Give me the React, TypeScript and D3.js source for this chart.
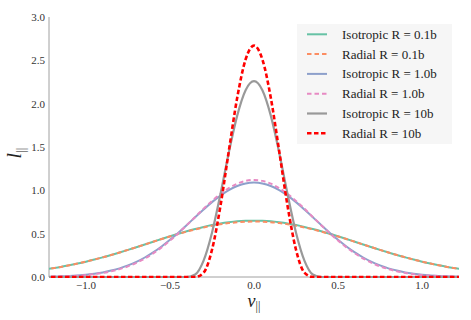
import React, { useEffect, useRef } from 'react';
import * as d3 from 'd3';

// line-of-sight velocity grid
const vGrid = [
  -1.25, -1.2, -1.15, -1.1, -1.05, -1.0, -0.95, -0.9, -0.85, -0.8, -0.75, -0.7, -0.65,
  -0.6, -0.55, -0.5, -0.45, -0.4, -0.35, -0.3, -0.25, -0.2, -0.15, -0.1, -0.05,
  0,
  0.05, 0.1, 0.15, 0.2, 0.25, 0.3, 0.35, 0.4, 0.45, 0.5, 0.55, 0.6, 0.65,
  0.7, 0.75, 0.8, 0.85, 0.9, 0.95, 1.0, 1.05, 1.1, 1.15, 1.2, 1.25,
];

const isoR01 = [
  0.085, 0.1, 0.116, 0.135, 0.155, 0.177, 0.201, 0.227, 0.254, 0.283, 0.313, 0.344, 0.375,
  0.407, 0.439, 0.47, 0.5, 0.528, 0.554, 0.578, 0.599, 0.617, 0.631, 0.642, 0.648,
  0.65,
  0.648, 0.642, 0.631, 0.617, 0.599, 0.578, 0.554, 0.528, 0.5, 0.47, 0.439, 0.407, 0.375,
  0.344, 0.313, 0.283, 0.254, 0.227, 0.201, 0.177, 0.155, 0.135, 0.116, 0.1, 0.085,
];
const radR01 = [
  0.085, 0.1, 0.116, 0.135, 0.155, 0.177, 0.201, 0.227, 0.254, 0.283, 0.313, 0.344, 0.375,
  0.407, 0.438, 0.468, 0.497, 0.524, 0.549, 0.572, 0.592, 0.609, 0.622, 0.632, 0.638,
  0.64,
  0.638, 0.632, 0.622, 0.609, 0.592, 0.572, 0.549, 0.524, 0.497, 0.468, 0.438, 0.407, 0.375,
  0.344, 0.313, 0.283, 0.254, 0.227, 0.201, 0.177, 0.155, 0.135, 0.116, 0.1, 0.085,
];
const isoR1 = [
  0.003, 0.005, 0.008, 0.012, 0.018, 0.026, 0.038, 0.053, 0.074, 0.1, 0.134, 0.175, 0.225,
  0.284, 0.352, 0.429, 0.512, 0.6, 0.69, 0.779, 0.864, 0.939, 1.002, 1.05, 1.08,
  1.09,
  1.08, 1.05, 1.002, 0.939, 0.864, 0.779, 0.69, 0.6, 0.512, 0.429, 0.352, 0.284, 0.225,
  0.175, 0.134, 0.1, 0.074, 0.053, 0.038, 0.026, 0.018, 0.012, 0.008, 0.005, 0.003,
];
const radR1 = [
  0.002, 0.004, 0.006, 0.01, 0.015, 0.022, 0.033, 0.047, 0.066, 0.091, 0.123, 0.164, 0.213,
  0.273, 0.342, 0.42, 0.506, 0.598, 0.693, 0.789, 0.877, 0.958, 1.025, 1.077, 1.109,
  1.12,
  1.109, 1.077, 1.025, 0.958, 0.877, 0.789, 0.693, 0.598, 0.506, 0.42, 0.342, 0.273, 0.213,
  0.164, 0.123, 0.091, 0.066, 0.047, 0.033, 0.022, 0.015, 0.01, 0.006, 0.004, 0.002,
];
const isoR10 = [
  0, 0, 0, 0, 0, 0, 0, 0, 0, 0, 0, 0, 0,
  0, 0, 0, 0, 0, 0.029, 0.189, 0.511, 0.953, 1.434, 1.862, 2.156,
  2.26,
  2.156, 1.862, 1.434, 0.953, 0.511, 0.189, 0.029, 0, 0, 0, 0, 0, 0,
  0, 0, 0, 0, 0, 0, 0, 0, 0, 0, 0, 0,
];
const radR10 = [
  0, 0, 0, 0, 0, 0, 0, 0, 0, 0, 0, 0, 0,
  0, 0, 0, 0, 0, 0, 0.05, 0.314, 0.816, 1.452, 2.068, 2.51,
  2.67,
  2.51, 2.068, 1.452, 0.816, 0.314, 0.05, 0, 0, 0, 0, 0, 0, 0,
  0, 0, 0, 0, 0, 0, 0, 0, 0, 0, 0, 0,
];

const seriesNames = [
  'Isotropic R = 0.1b', 'Radial R = 0.1b',
  'Isotropic R = 1.0b', 'Radial R = 1.0b',
  'Isotropic R = 10b', 'Radial R = 10b',
];
const seriesValues = [isoR01, radR01, isoR1, radR1, isoR10, radR10];
const seriesColors = ['#66c2a5', '#fc8d62', '#8da0cb', '#e78ac3', '#999999', '#ff0000'];
const seriesDash = [null, '4.5,3', null, '4.5,3', null, '4.5,2.5'];
const seriesWidth = [2, 2, 2, 2, 2.2, 2.6];

const xTicks = [-1.0, -0.5, 0.0, 0.5, 1.0];
const yTicks = [0.0, 0.5, 1.0, 1.5, 2.0, 2.5, 3.0];

const W = 471, H = 320;
const FONT = '"Liberation Serif", "DejaVu Serif", serif';

export default function App() {
  const ref = useRef<SVGSVGElement>(null);

  useEffect(() => {
    const svg = d3.select(ref.current);
    svg.selectAll('*').remove();

    const x = d3.scaleLinear().domain([-1.22, 1.22]).range([49, 459]);
    const y = d3.scaleLinear().domain([0, 3]).range([277, 17]);

    svg.append('clipPath').attr('id', 'plotclip')
      .append('rect').attr('x', 49).attr('y', 0).attr('width', 410).attr('height', 278);

    // spines (top/right removed)
    svg.append('line').attr('x1', 49).attr('x2', 49).attr('y1', 17).attr('y2', 277)
      .attr('stroke', '#a0a0a0').attr('stroke-width', 1);
    svg.append('line').attr('x1', 49).attr('x2', 459).attr('y1', 277).attr('y2', 277)
      .attr('stroke', '#a0a0a0').attr('stroke-width', 1);

    const fmt = (d: number) => d3.format('.1f')(d).replace('-', '\u2212');

    svg.append('g').selectAll('text').data(yTicks).join('text')
      .attr('x', 45).attr('y', d => y(d))
      .attr('text-anchor', 'end').attr('dominant-baseline', 'central')
      .attr('font-family', FONT).attr('font-size', 11).attr('fill', '#333')
      .text(fmt);

    svg.append('g').selectAll('text').data(xTicks).join('text')
      .attr('x', d => x(d)).attr('y', 285)
      .attr('text-anchor', 'middle').attr('dominant-baseline', 'central')
      .attr('font-family', FONT).attr('font-size', 11).attr('fill', '#333')
      .text(fmt);

    const line = d3.line<number>()
      .x((_, i) => x(vGrid[i]))
      .y(d => y(d))
      .curve(d3.curveMonotoneX);

    const g = svg.append('g').attr('clip-path', 'url(#plotclip)');
    seriesValues.forEach((vals, i) => {
      g.append('path').datum(vals)
        .attr('d', line)
        .attr('fill', 'none')
        .attr('stroke', seriesColors[i])
        .attr('stroke-width', seriesWidth[i])
        .attr('stroke-dasharray', seriesDash[i])
        .attr('stroke-linejoin', 'round');
    });

    // axis labels
    const xl = svg.append('text').attr('x', 254).attr('y', 307)
      .attr('text-anchor', 'middle').attr('font-family', FONT).attr('font-size', 18)
      .attr('fill', '#222');
    xl.append('tspan').attr('font-style', 'italic').text('v');
    xl.append('tspan').attr('font-size', 12).attr('dy', 3).text('||');

    const yl = svg.append('text').attr('transform', 'translate(21,153) rotate(-90)')
      .attr('text-anchor', 'middle').attr('font-family', FONT).attr('font-size', 20)
      .attr('fill', '#222');
    yl.append('tspan').attr('font-style', 'italic').text('l');
    yl.append('tspan').attr('font-size', 13).attr('dy', 4).text('||');

    // legend
    const lg = svg.append('g');
    lg.append('rect').attr('x', 297).attr('y', 24).attr('width', 155).attr('height', 120)
      .attr('fill', '#f6f6f6');
    seriesNames.forEach((name, i) => {
      const ry = 34.3 + i * 19.8;
      lg.append('line').attr('x1', 307).attr('x2', 327).attr('y1', ry).attr('y2', ry)
        .attr('stroke', seriesColors[i]).attr('stroke-width', seriesWidth[i])
        .attr('stroke-dasharray', seriesDash[i]);
      lg.append('text').attr('x', 342).attr('y', ry)
        .attr('dominant-baseline', 'central')
        .attr('font-family', FONT).attr('font-size', 13).attr('fill', '#222')
        .text(name);
    });
  }, []);

  return (
    <svg ref={ref} width={W} height={H}
      style={{ position: 'absolute', left: 0, top: 0, background: '#fff' }} />
  );
}
